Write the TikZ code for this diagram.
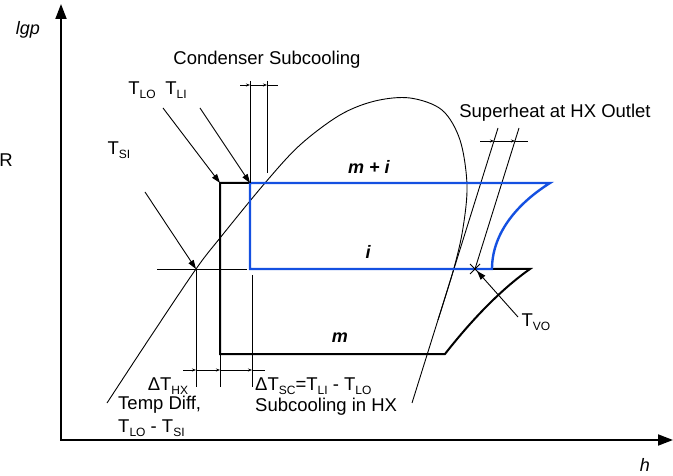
\documentclass[tikz,border=0pt]{standalone}
\usepackage{fontspec}
\setmainfont{Liberation Sans}
\usetikzlibrary{arrows.meta,calc}
\definecolor{cycblue}{RGB}{20,80,225}
\newcommand{\ix}[1]{\raisebox{-0.35ex}{\fontsize{12}{12}\selectfont #1}}

\begin{document}
\begin{tikzpicture}[
  x=1pt, y=-1pt,
  axis/.style={line width=1.8pt, -{Triangle[length=15pt, width=11pt]}},
  cyc/.style={line width=2pt, line join=miter},
  bluecyc/.style={cyc, draw=cycblue, line width=2.4pt},
  thinline/.style={line width=0.9pt},
  ptr/.style={thinline, -{Triangle[length=9pt, width=6pt]}},
  dim/.style={thinline, -{Stealth[length=4pt, width=3pt]}},
  txt/.style={font=\fontsize{18.5}{21}\selectfont, inner sep=0pt},
  cyclbl/.style={font=\fontsize{18}{21}\selectfont\bfseries\itshape, inner sep=0pt},
]
\useasboundingbox (0,0) rectangle (673,476);

% Axes
\coordinate (O) at (61,440);
\coordinate (ytop) at (61,4);
\coordinate (xend) at (673,440);
\draw[axis] (O) -- (ytop);
\draw[axis] ($(O)+(-0.9,0)$) -- (xend);
\node[txt, font=\fontsize{18}{21}\selectfont\itshape] (lgp) at (28,30) {lgp};
\node[txt, font=\fontsize{18}{21}\selectfont\itshape] (hlbl) at (645,465) {h};
\node[txt, anchor=east] (rlbl) at (13,160) {R};

% Cycle corners
\coordinate (cLO) at (220,183);
\coordinate (cLI) at (250,183);
\coordinate (bR) at (550,183);
\coordinate (bV) at (492,269);
\coordinate (bL) at (250,269);
\coordinate (kBL) at (220,354);
\coordinate (kBR) at (445,354);
\coordinate (kTip) at (530,269);
\coordinate (cSI) at (196,269);
\coordinate (xVO) at (475,269);

% Saturation dome
\draw[thinline] plot[smooth, tension=0.55] coordinates {(107,403) (151,336) (196,269) (220,238)
  (265,183) (300,145) (340,115) (375,101) (410,98) (442,110) (460,140) (467,185)
  (463,228) (454,268) (438,320)};

% Superheat isotherms
\coordinate (sA) at (498,128);
\coordinate (sAend) at (412,403);
\coordinate (sB) at (519,128);
\draw[thinline] (sA) -- (sAend);
\draw[thinline] (sB) -- (xVO);

% Black cycle (m)
\draw[cyc] (cLI) -- (cLO) -- (kBL) -- (kBR)
  .. controls (470,322) and (500,290) .. (kTip) -- (bV);

% Blue cycle (i)
\draw[bluecyc] (cLI) -- (bR) .. controls (515,205) and (492,235) .. (bV)
  -- (bL) -- cycle;

\node[cyclbl] (mi) at (369,167) {m + i};
\node[cyclbl] (ilbl) at (368,252) {i};
\node[cyclbl] (mlbl) at (340,338) {m};

% Condenser subcooling dimension
\node[txt] (cond) at (267,60) {Condenser Subcooling};
\coordinate (dTopA) at (250,81);
\coordinate (dTopB) at (267,81);
\draw[thinline] (dTopA) -- (cLI);
\draw[thinline] (dTopB) -- (267,173);
\draw[dim] (240,85) -- (250,85);
\draw[dim] (250,85) -- (267,85);
\draw[thinline] (267,85) -- (278,85);

% Temperature labels with pointers
\node[txt] (tlo) at (142,90) {T\ix{LO}};
\node[txt] (tli) at (176,90) {T\ix{LI}};
\node[txt] (tsi) at (119,150) {T\ix{SI}};
\draw[ptr] (163,108) -- (cLO);
\draw[ptr] (200,108) -- (cLI);
\draw[ptr] (145,192) -- (cSI);
\draw[thinline] (157,269) -- (247,269);

% Superheat at HX outlet
\node[txt] (sup) at (555,113) {Superheat at HX Outlet};
\draw[dim] (480,141) -- (494,141);
\draw[dim] (494,141) -- (515,141);
\draw[thinline] (515,141) -- (528,141);
\draw[thinline] ($(xVO)+(-5,-5)$) -- ($(xVO)+(5,5)$);
\draw[thinline] ($(xVO)+(-5,5)$) -- ($(xVO)+(5,-5)$);
\node[txt] (tvo) at (536,322) {T\ix{VO}};
\draw[ptr] (518,317) -- (477,271);

% Lower dimension lines
\draw[thinline] (cSI) -- (196,387);
\draw[thinline] (kBL) -- (220,387);
\draw[thinline] (252,275) -- (252,387);
\draw[dim] (183,370) -- (196,370);
\draw[dim] (196,370) -- (220,370);
\draw[dim] (220,370) -- (252,370);
\draw[thinline] (252,370) -- (265,370);

\node[txt] (dthx) at (168,386) {ΔT\ix{HX}};
\node[txt, anchor=west] (tdiff) at (118,405) {Temp Diff,};
\node[txt, anchor=west] (tdiff2) at (118,428) {T\ix{LO} - T\ix{SI}};
\node[txt, anchor=west] (dtsc) at (255,386) {ΔT\ix{SC}=T\ix{LI} - T\ix{LO}};
\node[txt, anchor=west] (schx) at (255,407) {Subcooling in HX};

\end{tikzpicture}
\end{document}
